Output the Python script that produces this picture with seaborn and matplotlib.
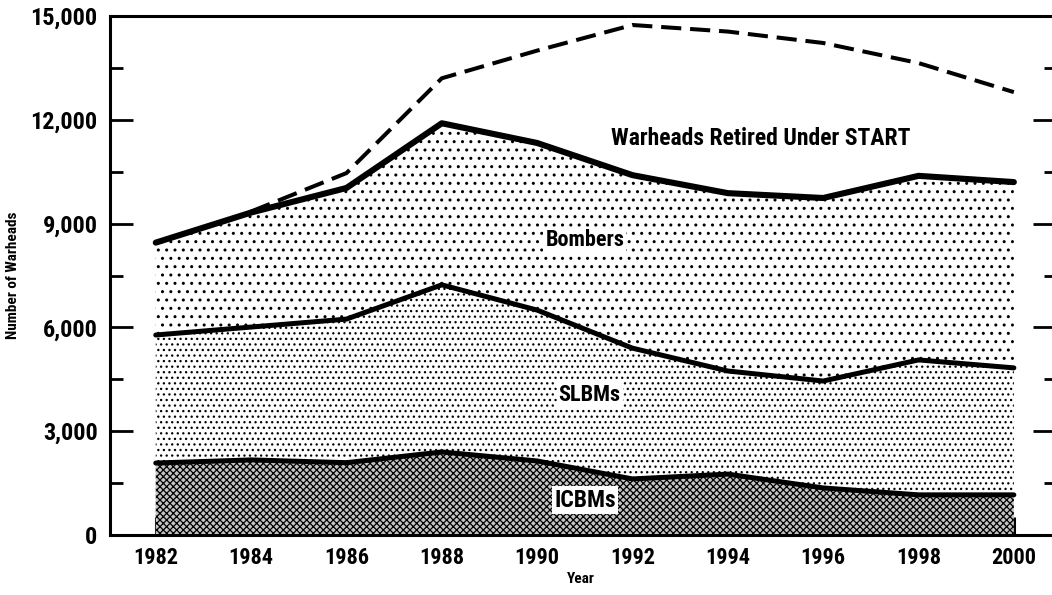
import matplotlib
matplotlib.use("Agg")
import numpy as np
import pandas as pd
import matplotlib.pyplot as plt
import seaborn as sns
from matplotlib.ticker import MultipleLocator, FuncFormatter

# ─── DATA (warheads) ─────────────────────────────────────────────────────────
years    = [1982, 1984, 1986, 1988, 1990, 1992, 1994, 1996, 1998, 2000]
icbms    = [2080, 2170, 2090, 2400, 2140, 1620, 1760, 1360, 1160, 1160]
slbms    = [3700, 3840, 4150, 4830, 4360, 3780, 2980, 3090, 3900, 3670]
bombers  = [2670, 3310, 3790, 4670, 4830, 5000, 5140, 5290, 5320, 5370]

# total before START reductions (dashed line)
pre_years = [1984, 1986, 1988, 1990, 1992, 1994, 1996, 1998, 2000]
pre_total = [9350, 10460, 13200, 14000, 14740, 14550, 14220, 13640, 12800]

y_ticks = [0, 3000, 6000, 9000, 12000, 15000]

df = pd.DataFrame({"year": years, "ICBMs": icbms, "SLBMs": slbms, "Bombers": bombers})
df["icbm_top"] = df["ICBMs"]
df["slbm_top"] = df["icbm_top"] + df["SLBMs"]
df["bomber_top"] = df["slbm_top"] + df["Bombers"]
pre_df = pd.DataFrame({"year": pre_years, "total": pre_total})

# ─── STYLE ───────────────────────────────────────────────────────────────────
sns.set_theme(style="ticks")
plt.rcParams["font.family"] = ["Liberation Sans Narrow", "Roboto Condensed", "Roboto", "DejaVu Sans"]
plt.rcParams["font.weight"] = "bold"
for key in ["text.color", "axes.labelcolor", "xtick.color", "ytick.color", "axes.edgecolor"]:
    plt.rcParams[key] = "black"

fig = plt.figure(figsize=(10.52, 5.95), dpi=100)
ax = fig.add_axes([110 / 1052, 1 - 535 / 595, 942 / 1052, (535 - 16) / 595])

# ─── STACKED FILLS ───────────────────────────────────────────────────────────
with plt.rc_context({"hatch.linewidth": 0.9}):
    ax.fill_between(df["year"], 0, df["icbm_top"], facecolor="#c4c4c4",
                    edgecolor="black", hatch="xxxxx", linewidth=0)
with plt.rc_context({"hatch.linewidth": 0.9}):
    ax.fill_between(df["year"], df["icbm_top"], df["slbm_top"], facecolor="white",
                    edgecolor="black", hatch="...", linewidth=0)
with plt.rc_context({"hatch.linewidth": 1.0}):
    ax.fill_between(df["year"], df["slbm_top"], df["bomber_top"], facecolor="white",
                    edgecolor="black", hatch="..", linewidth=0)

# ─── BOUNDARY LINES ──────────────────────────────────────────────────────────
for col, lw in [("icbm_top", 3.6), ("slbm_top", 3.6), ("bomber_top", 4.4)]:
    sns.lineplot(data=df, x="year", y=col, color="black", linewidth=lw,
                 solid_capstyle="round", solid_joinstyle="round", ax=ax)
sns.lineplot(data=pre_df, x="year", y="total", color="black", linewidth=2.9,
             linestyle=(0, (5, 2.2)), dash_capstyle="butt", ax=ax)

# ─── LABELS IN THE AREAS ─────────────────────────────────────────────────────
box = dict(facecolor="white", edgecolor="none", pad=1.5)
ax.text(1994.7, 11470, "Warheads Retired Under START", ha="center", va="center",
        fontsize=17, fontweight="bold")
ax.text(1991.0, 8530, "Bombers", ha="center", va="center", fontsize=16,
        fontweight="bold", bbox=box)
ax.text(1991.1, 4050, "SLBMs", ha="center", va="center", fontsize=16,
        fontweight="bold", bbox=box)
ax.text(1991.0, 1010, "ICBMs", ha="center", va="center", fontsize=17,
        fontweight="bold", bbox=box)

# ─── AXES ────────────────────────────────────────────────────────────────────
ax.set_xlim(1981.04, 2000.8)
ax.set_ylim(0, 15000)
ax.set_xticks(years)
ax.set_yticks(y_ticks)
ax.yaxis.set_minor_locator(MultipleLocator(1500))
ax.yaxis.set_major_formatter(FuncFormatter(lambda v, p: f"{int(v):,}"))

ax.set_xlabel("Year", fontsize=11, fontweight="bold", labelpad=2)
ax.set_ylabel("Number of Warheads", fontsize=11, fontweight="bold")
ax.yaxis.set_label_coords(-90 / 942, 0.5)

for side in ["left", "bottom", "top"]:
    ax.spines[side].set_linewidth(2.2)
ax.spines["right"].set_visible(False)

ax.tick_params(axis="x", which="major", direction="in", length=13, width=2.2,
               labelsize=16, pad=9)
ax.tick_params(axis="y", which="major", direction="in", length=16.5, width=2.0,
               labelsize=17.5, pad=9)
ax.tick_params(axis="y", which="minor", direction="in", length=9.5, width=2.0)
ax.tick_params(axis="x", which="minor", bottom=False, top=False)

# right-hand ticks are shorter than the left ones
ax_r = ax.twinx()
ax_r.set_ylim(ax.get_ylim())
ax_r.set_yticks(y_ticks)
ax_r.yaxis.set_minor_locator(MultipleLocator(1500))
ax_r.tick_params(axis="y", which="major", direction="in", length=14, width=2.0,
                 labelright=False)
ax_r.tick_params(axis="y", which="minor", direction="in", length=5.5, width=2.0)
for side in ["left", "right", "top", "bottom"]:
    ax_r.spines[side].set_visible(False)

plt.savefig("out.png", dpi=100)
